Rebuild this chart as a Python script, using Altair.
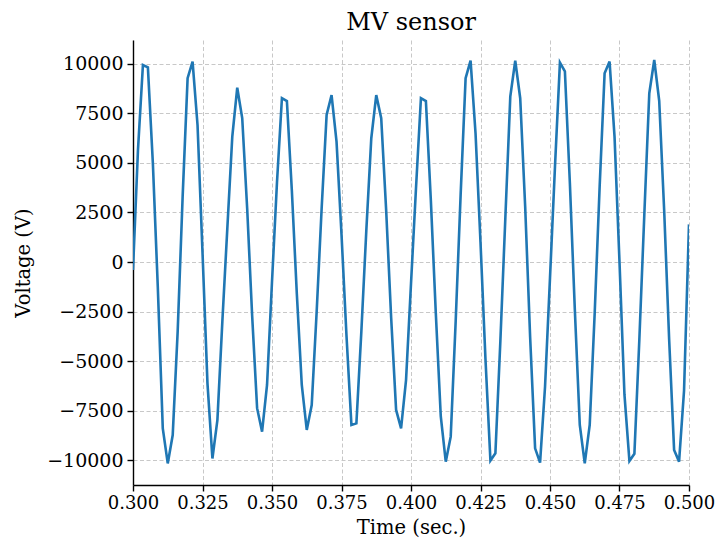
import altair as alt
import pandas as pd

# Sample times (s), 560 Hz sampling between 0.3 and 0.5 s
time_s = [
    0.300000, 0.301786, 0.303571, 0.305357, 0.307143, 0.308929, 0.310714, 0.312500, 0.314286, 0.316071,
    0.317857, 0.319643, 0.321429, 0.323214, 0.325000, 0.326786, 0.328571, 0.330357, 0.332143, 0.333929,
    0.335714, 0.337500, 0.339286, 0.341071, 0.342857, 0.344643, 0.346429, 0.348214,
    0.350000, 0.351786, 0.353571, 0.355357, 0.357143, 0.358929, 0.360714, 0.362500, 0.364286, 0.366071,
    0.367857, 0.369643, 0.371429, 0.373214, 0.375000, 0.376786, 0.378571, 0.380357, 0.382143, 0.383929,
    0.385714, 0.387500, 0.389286, 0.391071, 0.392857, 0.394643, 0.396429, 0.398214,
    0.400000, 0.401786, 0.403571, 0.405357, 0.407143, 0.408929, 0.410714, 0.412500, 0.414286, 0.416071,
    0.417857, 0.419643, 0.421429, 0.423214, 0.425000, 0.426786, 0.428571, 0.430357, 0.432143, 0.433929,
    0.435714, 0.437500, 0.439286, 0.441071, 0.442857, 0.444643, 0.446429, 0.448214,
    0.450000, 0.451786, 0.453571, 0.455357, 0.457143, 0.458929, 0.460714, 0.462500, 0.464286, 0.466071,
    0.467857, 0.469643, 0.471429, 0.473214, 0.475000, 0.476786, 0.478571, 0.480357, 0.482143, 0.483929,
    0.485714, 0.487500, 0.489286, 0.491071, 0.492857, 0.494643, 0.496429, 0.498214,
    0.500000,
]

# Voltage readings (V)
voltage_v = [
    -400, 5650, 9950, 9830, 5000, -1300, -8400, -10170, -8740, -3500,
    3300, 9280, 10120, 6920, 500, -6130, -9920, -7980, -3000, 1700,
    6330, 8800, 7270, 2700, -2700, -7380, -8570, -6210,
    -1000, 4000, 8270, 8130, 3600, -1600, -6210, -8480, -7220, -2500,
    2700, 7420, 8430, 6080, 1400, -3700, -8230, -8150, -3500, 1600,
    6250, 8430, 7260, 2600, -2800, -7470, -8400, -5960,
    -1100, 3700, 8270, 8130, 3100, -2600, -7800, -10080, -8820, -3000,
    3400, 9280, 10170, 6500, 1000, -4900, -10030, -9660, -4000, 2200,
    8350, 10170, 8270, 2800, -3800, -9410, -10130, -6300,
    -800, 4800, 10070, 9630, 4000, -2400, -8230, -10170, -8230, -2600,
    3800, 9530, 10120, 6330, 0, -6700, -10050, -9680, -3900, 2400,
    8520, 10200, 8140, 2600, -3900, -9490, -10080, -6500,
    1900,
]

x_ticks = [0.300, 0.325, 0.350, 0.375, 0.400, 0.425, 0.450, 0.475, 0.500]
y_ticks = [-10000, -7500, -5000, -2500, 0, 2500, 5000, 7500, 10000]

df = pd.DataFrame({"t": time_s, "v": voltage_v})

FONT = "DejaVu Serif"

line = alt.Chart(df).mark_line(color="#1f77b4", strokeWidth=2.6, clip=True).encode(
    x=alt.X(
        "t:Q",
        scale=alt.Scale(domain=[0.3, 0.5], nice=False, zero=False),
        axis=alt.Axis(
            values=x_ticks, format=".3f", title="Time (sec.)",
            titleY=42, titleBaseline="middle", labelPadding=3,
            labelOverlap=False, labelFlush=False, labelFontSize=18,
        ),
    ),
    y=alt.Y(
        "v:Q",
        scale=alt.Scale(domain=[-11260, 11210], nice=False, zero=False),
        axis=alt.Axis(
            values=y_ticks, format="d", title="Voltage (V)",
            titleX=-110, titleBaseline="middle", titleAlign="center",
            labelPadding=4, labelOverlap=False, labelFlush=False,
        ),
    ),
).properties(
    width=556,
    height=445,
    autosize="none",
    padding={"left": 125, "top": 32, "right": 26, "bottom": 53},
    title=alt.TitleParams(
        "MV sensor", font=FONT, fontSize=24, fontWeight="normal",
        color="#000000", anchor="middle", frame="group", offset=5,
    ),
)

chart = line.configure_view(stroke=None).configure_axis(
    labelFont=FONT, labelFontSize=19, labelColor="#000000",
    titleFont=FONT, titleFontSize=19.5, titleFontWeight="normal", titleColor="#000000",
    domainColor="#000000", domainWidth=1.4,
    tickColor="#000000", tickSize=6, tickWidth=1.4,
    grid=True, gridColor="#c8c8c8", gridDash=[4, 2.5], gridWidth=1,
)

chart.save("out.html", embed_options={"renderer": "svg", "actions": False})
